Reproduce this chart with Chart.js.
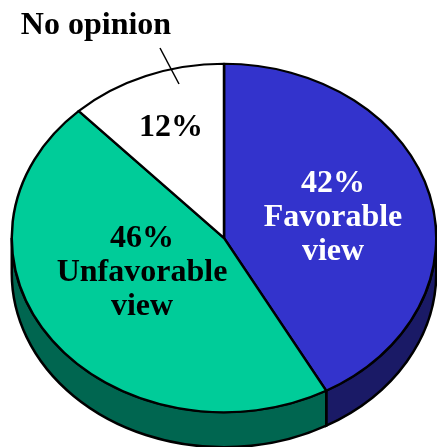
<!DOCTYPE html>
<html>
<head>
<meta charset="utf-8">
<style>
  html, body { margin: 0; padding: 0; background: #fff; }
  canvas { display: block; }
</style>
<script src="https://cdn.jsdelivr.net/npm/chart.js@4"></script>
</head>
<body>
<canvas id="pie-chart" width="437" height="447"></canvas>
<script>
const categories = ['Favorable view', 'Unfavorable view', 'No opinion'];
const values = [42, 46, 12];
const topColors = ['#3333cc', '#00cc99', '#ffffff'];
const sideColors = ['#1a1a66', '#006650', '#ffffff'];

// where the squashed pie sits on the page
const centerX = 224;
const centerY = 238;
const squash = 174 / 212;
const depth = 35;

const font = 'bold 32px "Liberation Serif", "Times New Roman", serif';

// text blocks, one line per entry
const textBlocks = [
  { x: 333, color: '#ffffff', lines: [['42%', 192], ['Favorable', 226], ['view', 260]] },
  { x: 142, color: '#000000', lines: [['46%', 247], ['Unfavorable', 281], ['view', 315]] },
  { x: 171, color: '#000000', lines: [['12%', 136]] },
  { x: 96, color: '#000000', lines: [['No opinion', 34]] }
];

function sidePath(ctx, rx, ry, from, to) {
  ctx.beginPath();
  ctx.ellipse(centerX, centerY, rx, ry, 0, from, to, false);
  ctx.ellipse(centerX, centerY + depth, rx, ry, 0, to, from, true);
  ctx.closePath();
}

const squashedPie = {
  id: 'squashedPie',
  beforeDatasetsDraw(chart) {
    const ctx = chart.ctx;
    const arcs = chart.getDatasetMeta(0).data;
    const rx = arcs[0].outerRadius;
    const ry = rx * squash;

    // side wall, only the front half can be seen
    arcs.forEach((arc, i) => {
      const from = Math.max(arc.startAngle, 0);
      const to = Math.min(arc.endAngle, Math.PI);
      if (to <= from) return;
      sidePath(ctx, rx, ry, from, to);
      ctx.fillStyle = sideColors[i];
      ctx.fill();
      ctx.lineWidth = 2.5;
      ctx.strokeStyle = '#000';
      ctx.stroke();
    });

    ctx.save();
    ctx.translate(centerX, centerY);
    ctx.scale(1, squash);
    ctx.translate(-arcs[0].x, -arcs[0].y);
  },
  afterDatasetsDraw(chart) {
    const ctx = chart.ctx;
    ctx.restore();

    // leader line for No opinion
    ctx.beginPath();
    ctx.moveTo(160, 48);
    ctx.lineTo(179, 84);
    ctx.lineWidth = 1.5;
    ctx.strokeStyle = '#000';
    ctx.stroke();

    ctx.font = font;
    ctx.textAlign = 'center';
    ctx.textBaseline = 'alphabetic';
    textBlocks.forEach(block => {
      ctx.fillStyle = block.color;
      block.lines.forEach(line => ctx.fillText(line[0], block.x, line[1]));
    });
  }
};

new Chart(document.getElementById('pie-chart').getContext('2d'), {
  type: 'pie',
  data: {
    labels: categories,
    datasets: [{
      data: values,
      backgroundColor: topColors,
      borderColor: '#000000',
      borderWidth: 2.5,
      borderJoinStyle: 'round',
      clip: false
    }]
  },
  options: {
    responsive: false,
    animation: false,
    events: [],
    layout: { padding: { left: 10, right: 0, top: 10, bottom: 10 } },
    plugins: {
      legend: { display: false },
      tooltip: { enabled: false }
    }
  },
  plugins: [squashedPie]
});
</script>
</body>
</html>
